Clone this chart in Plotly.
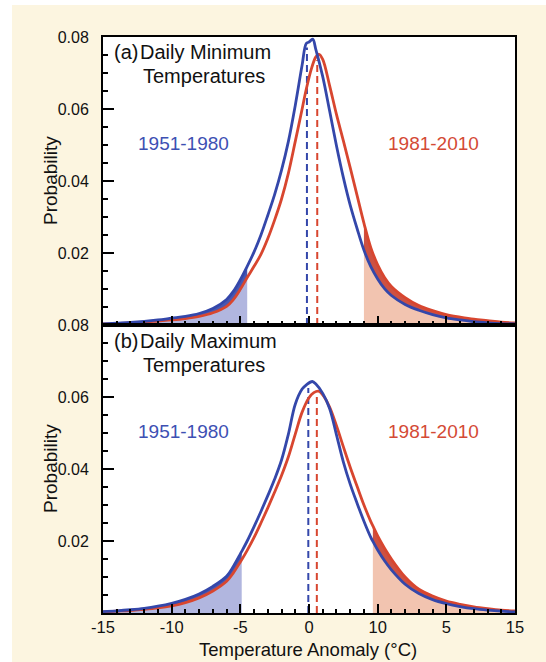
import numpy as np
import plotly.graph_objects as go
from plotly.subplots import make_subplots

# ---------------- data ----------------
x_ticks = [-15, -10, -5, 0, 5, 10, 15]
x_tick_labels = ["-15", "-10", "-5", "0", "10", "5", "15"]
y_ticks = [0.02, 0.04, 0.06, 0.08]
y_tick_labels = ["0.02", "0.04", "0.06", "0.08"]
periods = ["1951-1980", "1981-2010"]
panel_titles = [("(a)", "Daily Minimum", "Temperatures"),
                ("(b)", "Daily Maximum", "Temperatures")]

# (a) daily minimum temperatures
tmin_blue_x = [-15, -14, -13, -12, -11, -10, -9, -8, -7,
               -6, -5.5, -5, -4.5, -4, -3.5, -3, -2.5, -2, -1.5, -1, -0.5, -0.2, 0, 0.27, 0.5,
               1.0, 1.5, 2.0, 2.5, 3.0, 3.5, 4.0, 4.5, 5.0, 5.5, 6,
               7, 8, 9, 10, 11, 12, 13, 14, 15]
tmin_blue_y = [0.0003, 0.0005, 0.0007, 0.0010, 0.0014, 0.0019, 0.0024, 0.0032, 0.0046,
               0.0071, 0.0094, 0.0126, 0.0163, 0.0203, 0.0250, 0.0305, 0.0363, 0.0430, 0.0510,
               0.0610, 0.0722, 0.0782, 0.0786, 0.0794, 0.0765, 0.0690, 0.0595, 0.0498, 0.0410,
               0.0333, 0.0268, 0.0208, 0.0162, 0.0128, 0.0101, 0.0082,
               0.0057, 0.0041, 0.0029, 0.0020, 0.0014, 0.0009, 0.0006, 0.0004, 0.0003]
tmin_red_x = [-15, -14, -13, -12, -11, -10, -9, -8, -7,
              -6, -5.5, -5, -4.5, -4, -3.5, -3, -2.5, -2, -1.5, -1, -0.5, -0.2, 0.2, 0.5, 0.73,
              1.0, 1.5, 2.0, 2.5, 3.0, 3.5, 4.0, 4.5, 5.0, 5.5, 6,
              7, 8, 9, 10, 11, 12, 13, 14, 15]
tmin_red_y = [0.0003, 0.0004, 0.0006, 0.0008, 0.0011, 0.0014, 0.0018, 0.0024, 0.0034,
              0.0052, 0.0071, 0.0099, 0.0132, 0.0163, 0.0196, 0.0240, 0.0292, 0.0350, 0.0422,
              0.0510, 0.0600, 0.0655, 0.0715, 0.0745, 0.0752, 0.0738, 0.0665, 0.0585, 0.0512,
              0.0437, 0.0360, 0.0283, 0.0215, 0.0167, 0.0132, 0.0107,
              0.0076, 0.0054, 0.0040, 0.0029, 0.0022, 0.0016, 0.0012, 0.0008, 0.0006]
tmin_edges = [-4.5, 4.0]
tmin_means = [-0.15, 0.6]

# (b) daily maximum temperatures
tmax_blue_x = [-15, -14, -13, -12, -11, -10, -9, -8, -7,
               -6, -5.5, -5, -4.9, -4.5, -4, -3.5, -3, -2.5, -2, -1.5, -1, -0.5, -0.19, 0.24, 0.5,
               1.0, 1.5, 2.0, 2.5, 3.0, 3.5, 4.0, 4.5, 4.65, 5.0, 5.5, 6,
               7, 8, 9, 10, 11, 12, 13, 14, 15]
tmax_blue_y = [0.0004, 0.0006, 0.0009, 0.0013, 0.0019, 0.0027, 0.0038, 0.0053, 0.0074,
               0.0102, 0.0130, 0.0164, 0.0171, 0.0200, 0.0240, 0.0282, 0.0326, 0.0372, 0.0425,
               0.0497, 0.0580, 0.0622, 0.0634, 0.0643, 0.0636, 0.0610, 0.0568, 0.0495, 0.0420,
               0.0358, 0.0305, 0.0255, 0.0210, 0.0199, 0.0175, 0.0145, 0.0120,
               0.0080, 0.0054, 0.0037, 0.0026, 0.0018, 0.0012, 0.0008, 0.0005, 0.0003]
tmax_red_x = [-15, -14, -13, -12, -11, -10, -9, -8, -7,
              -6, -5.5, -5, -4.9, -4.5, -4, -3.5, -3, -2.5, -2, -1.5, -1, -0.5, 0, 0.35, 0.7,
              1.0, 1.5, 2.0, 2.5, 3.0, 3.5, 4.0, 4.5, 4.65, 5.0, 5.5, 6,
              7, 8, 9, 10, 11, 12, 13, 14, 15]
tmax_red_y = [0.0003, 0.0005, 0.0007, 0.0010, 0.0014, 0.0020, 0.0029, 0.0042, 0.0061,
              0.0088, 0.0112, 0.0142, 0.0148, 0.0174, 0.0210, 0.0250, 0.0292, 0.0336, 0.0382,
              0.0434, 0.0497, 0.0558, 0.0598, 0.0612, 0.0616, 0.0606, 0.0572, 0.0520, 0.0462,
              0.0405, 0.0352, 0.0300, 0.0254, 0.0242, 0.0214, 0.0180, 0.0150,
              0.0100, 0.0066, 0.0047, 0.0033, 0.0024, 0.0017, 0.0012, 0.0008, 0.0006]
tmax_edges = [-4.9, 4.65]
tmax_means = [-0.05, 0.57]

# ---------------- style ----------------
FONT = "Liberation Sans, Arial, Helvetica, sans-serif"
BLUE = "#3447aa"
RED = "#d8462f"
BLUE_LIGHT = "#b1b6df"
BLUE_DARK = "rgba(52,70,168,0.9)"
RED_LIGHT = "#f2c4b0"
RED_DARK = "rgba(200,62,45,0.9)"
CREAM = "#fcf5e0"

W, H = 546, 662
L, R, T, B = 103, 515, 37, 613


def px_x(px):
    return (px - L) / (R - L)


def px_y(py):
    return (B - py) / (B - T)


def subset(x, y, lo, hi):
    xs, ys = [], []
    for xi, yi in zip(x, y):
        if lo <= xi <= hi:
            xs.append(xi)
            ys.append(yi)
    return xs, ys


fig = make_subplots(rows=2, cols=1, shared_xaxes=False, vertical_spacing=0)

panels = [
    (tmin_blue_x, tmin_blue_y, tmin_red_x, tmin_red_y, tmin_edges, tmin_means),
    (tmax_blue_x, tmax_blue_y, tmax_red_x, tmax_red_y, tmax_edges, tmax_means),
]

for i, (bx, by, rx, ry, edges, means) in enumerate(panels):
    row = i + 1
    # cold tail: light fill under lower (red) curve, dark fill between red and blue
    cx, cy = subset(rx, ry, -15, edges[0])
    fig.add_trace(go.Scatter(x=cx, y=cy, mode="lines", line=dict(width=0, shape="spline"),
                             fill="tozeroy", fillcolor=BLUE_LIGHT, hoverinfo="skip",
                             showlegend=False), row=row, col=1)
    cx, cy = subset(bx, by, -15, edges[0])
    fig.add_trace(go.Scatter(x=cx, y=cy, mode="lines", line=dict(width=0, shape="spline"),
                             fill="tonexty", fillcolor=BLUE_DARK, hoverinfo="skip",
                             showlegend=False), row=row, col=1)
    # warm tail: light fill under lower (blue) curve, dark fill between blue and red
    wx, wy = subset(bx, by, edges[1], 15)
    fig.add_trace(go.Scatter(x=wx, y=wy, mode="lines", line=dict(width=0, shape="spline"),
                             fill="tozeroy", fillcolor=RED_LIGHT, hoverinfo="skip",
                             showlegend=False), row=row, col=1)
    wx, wy = subset(rx, ry, edges[1], 15)
    fig.add_trace(go.Scatter(x=wx, y=wy, mode="lines", line=dict(width=0, shape="spline"),
                             fill="tonexty", fillcolor=RED_DARK, hoverinfo="skip",
                             showlegend=False), row=row, col=1)
    # mean lines
    for m, (cxs, cys), col in [(means[0], (bx, by), BLUE), (means[1], (rx, ry), RED)]:
        top = float(np.interp(m, cxs, cys)) - 0.0012
        fig.add_trace(go.Scatter(x=[m, m], y=[0, top], mode="lines",
                                 line=dict(color=col, width=2, dash="7px,4px"),
                                 hoverinfo="skip", showlegend=False), row=row, col=1)
    # curves
    fig.add_trace(go.Scatter(x=rx, y=ry, mode="lines", line=dict(color=RED, width=2.8, shape="spline"),
                             hoverinfo="skip", showlegend=False), row=row, col=1)
    fig.add_trace(go.Scatter(x=bx, y=by, mode="lines", line=dict(color=BLUE, width=2.8, shape="spline"),
                             hoverinfo="skip", showlegend=False), row=row, col=1)

xaxis_common = dict(range=[-15, 15], showline=True, mirror=True, linecolor="black", linewidth=2,
                    ticks="inside", ticklen=9, tickwidth=2, tickcolor="black",
                    tickmode="array", tickvals=x_ticks, ticktext=x_tick_labels,
                    minor=dict(ticks="inside", ticklen=4, tickwidth=1.5, tickcolor="black",
                               dtick=1, tick0=0, showgrid=False),
                    showgrid=False, zeroline=False,
                    tickfont=dict(family=FONT, size=16.5, color="#111"))
yaxis_common = dict(range=[0, 0.08], showline=True, mirror=True, linecolor="black", linewidth=2,
                    ticks="inside", ticklen=11, tickwidth=2, tickcolor="black",
                    tickmode="array", tickvals=y_ticks, ticktext=y_tick_labels,
                    minor=dict(ticks="inside", ticklen=4.5, tickwidth=1.5, tickcolor="black",
                               dtick=0.005, tick0=0, showgrid=False),
                    showgrid=False, zeroline=False, ticklabelstandoff=9,
                    tickfont=dict(family=FONT, size=16, color="#111"))

fig.update_xaxes(**xaxis_common)
fig.update_xaxes(showticklabels=False, row=1, col=1)
fig.update_xaxes(ticklabelstandoff=-2, row=2, col=1)
fig.update_yaxes(**yaxis_common)
fig.update_layout(
    xaxis=dict(domain=[0, 1]), xaxis2=dict(domain=[0, 1]),
    yaxis=dict(domain=[0.5, 1]), yaxis2=dict(domain=[0, 0.5]),
)

annotations = []
panel_tops = [T, 325]
for i, (lab, line1, line2) in enumerate(panel_titles):
    top = panel_tops[i]
    annotations.append(dict(text=lab, x=px_x(112), y=px_y(top + 15.5), xanchor="left", yanchor="middle",
                            font=dict(family=FONT, size=20, color="#111")))
    annotations.append(dict(text=line1, x=px_x(138), y=px_y(top + 15.5), xanchor="left", yanchor="middle",
                            font=dict(family=FONT, size=20, color="#111")))
    annotations.append(dict(text=line2, x=px_x(141), y=px_y(top + 39.5), xanchor="left", yanchor="middle",
                            font=dict(family=FONT, size=20, color="#111")))
    annotations.append(dict(text=periods[0], x=px_x(183), y=px_y(top + 106), xanchor="center",
                            yanchor="middle", font=dict(family=FONT, size=19, color="#3d50b3")))
    annotations.append(dict(text=periods[1], x=px_x(433), y=px_y(top + 106), xanchor="center",
                            yanchor="middle", font=dict(family=FONT, size=19, color="#d44a35")))
    annotations.append(dict(text="Probability", x=px_x(50), y=px_y(top + 144), xanchor="center",
                            yanchor="middle", textangle=-90,
                            font=dict(family=FONT, size=19, color="#111")))
annotations.append(dict(text="Temperature Anomaly (°C)", x=px_x(308), y=px_y(649), xanchor="center",
                        yanchor="middle", font=dict(family=FONT, size=18.5, color="#111")))
for a in annotations:
    a.update(xref="paper", yref="paper", showarrow=False)

shapes = [
    dict(type="rect", xref="paper", yref="paper", x0=px_x(-5), x1=px_x(12), y0=px_y(670), y1=px_y(-5),
         fillcolor="white", line=dict(width=0), layer="below"),
    dict(type="rect", xref="paper", yref="paper", x0=px_x(-5), x1=px_x(551), y0=px_y(5), y1=px_y(-5),
         fillcolor="white", line=dict(width=0), layer="below"),
]

fig.update_layout(
    width=W, height=H,
    margin=dict(l=L, r=W - R, t=T, b=H - B, pad=0),
    paper_bgcolor=CREAM, plot_bgcolor="white",
    annotations=annotations, shapes=shapes,
    showlegend=False,
    font=dict(family=FONT, color="#111"),
)

fig.write_html("out.html")
